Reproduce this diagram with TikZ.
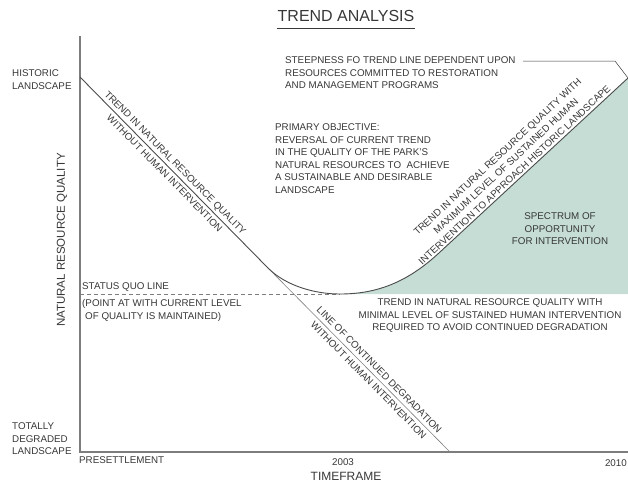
\documentclass[tikz,border=0pt]{standalone}
\usepackage{fontspec}
\setmainfont{Liberation Sans}
\usetikzlibrary{positioning}
\definecolor{spectrum}{RGB}{197,221,213}
\definecolor{inkgray}{RGB}{55,55,55}
\definecolor{axisgray}{RGB}{125,125,125}

\begin{document}
\begin{tikzpicture}[x=1pt, y=-1pt,
  lbl/.style={font=\fontsize{9.8}{12.5}\selectfont, text=inkgray, inner sep=0pt},
  trend/.style={draw=inkgray!90, line width=0.9pt}]
\useasboundingbox (0,0) rectangle (628,483);

% Title
\node[lbl, font=\fontsize{16}{18}\selectfont] (title) at (346,16) {TREND ANALYSIS};
\draw[inkgray, line width=0.6pt] ([yshift=-6pt]title.south west) -- ([yshift=-6pt]title.south east);

% Axes
\coordinate (top) at (80,36);
\coordinate (origin) at (80,452);
\coordinate (right) at (628,452);
\draw[axisgray, line width=1.4pt] (top) -- (origin) -- (right);

% Points of the trend curve
\coordinate (hist) at (80,77);
\coordinate (branch) at (268,268);
\coordinate (low) at (340,294);
\coordinate (rise) at (440,252);
\coordinate (peak) at (628,78);
\coordinate (floor) at (450,452);
\coordinate (quo) at (80,294);
\coordinate (edge) at (628,294);

% Spectrum of opportunity (shaded)
\fill[spectrum] (low) .. controls (380,294) and (410,280) .. (rise) -- (peak) -- (edge) -- cycle;

% Status quo line
\draw[axisgray, dash pattern=on 4pt off 3pt, line width=0.8pt] (quo) -- (low);

% Continued degradation
\draw[gray, line width=0.6pt] (branch) -- (floor);

% Main trend line
\draw[trend] (hist) -- (branch) .. controls (286,286) and (315,294) .. (low)
  .. controls (380,294) and (410,280) .. (rise) -- (peak);

% Notes at the top
\node[lbl, align=left, anchor=north west] (steep) at (285,56.5) {STEEPNESS FO TREND LINE DEPENDENT UPON\\RESOURCES COMMITTED TO RESTORATION\\AND MANAGEMENT PROGRAMS};
\node[lbl, align=left, anchor=north west] (goal) at (275,123.5) {PRIMARY OBJECTIVE:\\REVERSAL OF CURRENT TREND\\IN THE QUALITY OF THE PARK'S\\NATURAL RESOURCES TO\ \ ACHIEVE\\A SUSTAINABLE AND DESIRABLE\\LANDSCAPE};

% Leader to the top of the trend line
\coordinate (lead) at (523,61);
\coordinate (knee) at (615,61);
\draw[inkgray, line width=0.5pt] (lead) -- (knee) -- (peak);

% Axis labels
\node[lbl, align=left, anchor=north west] (historic) at (12,69.5) {HISTORIC\\LANDSCAPE};
\node[lbl, align=left, anchor=north west] (degraded) at (12,422.5) {TOTALLY\\DEGRADED\\LANDSCAPE};
\node[lbl, font=\fontsize{11.5}{13}\selectfont, rotate=90] (quality) at (62,240) {NATURAL RESOURCE QUALITY};
\node[lbl, anchor=west] (presettle) at (79,460) {PRESETTLEMENT};
\node[lbl] (y2003) at (343,462) {2003};
\node[lbl, font=\fontsize{12}{14}\selectfont] (timeframe) at (346,476) {TIMEFRAME};
\node[lbl, anchor=east] (y2010) at (627,463) {2010};

% Status quo
\node[lbl, anchor=west] (quolabel) at (82,287) {STATUS QUO LINE};
\node[lbl, align=left, anchor=north west] (quonote) at (82,299.5) {(POINT AT WITH CURRENT LEVEL\\\hspace{3pt}OF QUALITY IS MAINTAINED)};

% Minimal intervention and spectrum
\node[lbl, align=center, anchor=north] (minimal) at (490,298.5) {TREND IN NATURAL RESOURCE QUALITY WITH\\MINIMAL LEVEL OF SUSTAINED HUMAN INTERVENTION\\REQUIRED TO AVOID CONTINUED DEGRADATION};
\node[lbl, align=center] (opportunity) at (560,229) {SPECTRUM OF\\OPPORTUNITY\\FOR INTERVENTION};

% Labels along the lines
\node[lbl, align=center, rotate=-45.4] (without) at (170,168) {TREND IN NATURAL RESOURCE QUALITY\\[2.5pt]WITHOUT HUMAN INTERVENTION};
\node[lbl, align=center, rotate=-45.4] (degrade) at (374,375) {LINE OF CONTINUED DEGRADATION\\[2.5pt]WITHOUT HUMAN INTERVENTION};
\node[lbl, align=center, rotate=43] (maximal) at (506,166) {TREND IN NATURAL RESOURCE QUALITY WITH\\MAXIMUM LEVEL OF SUSTAINED HUMAN\\INTERVENTION TO APPROACH HISTORIC LANDSCAPE};
\end{tikzpicture}
\end{document}
